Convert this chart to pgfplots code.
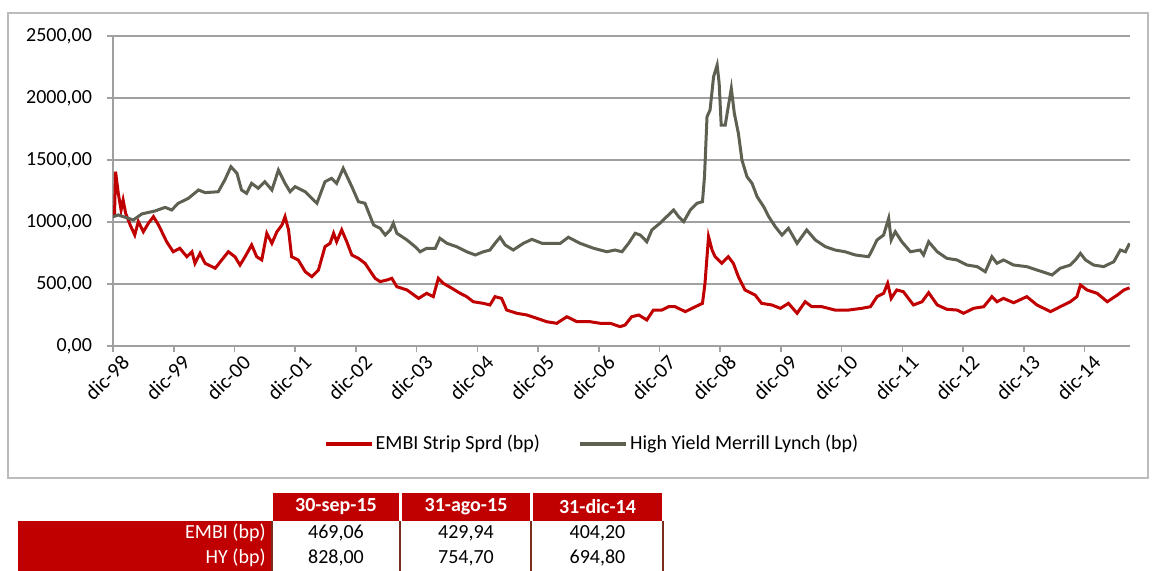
\documentclass[border=0pt]{standalone}
\usepackage{pgfplots}
\pgfplotsset{compat=1.18}
\usepackage{fontspec}
\setmainfont{Carlito}
\definecolor{embired}{HTML}{C00000}
\definecolor{hygray}{HTML}{5E6052}
\definecolor{gridgray}{HTML}{A0A0A0}
\definecolor{cellline}{HTML}{7B2C1A}

% x = months since dic-98, y = basis points
\begin{document}
\begin{tikzpicture}[x=1pt,y=1pt]
\useasboundingbox (0,0) rectangle (579.5,-285.5);
\draw[gridgray!70, line width=1pt] (4,-6.5) rectangle (574,-239);
\begin{axis}[
    scale only axis,
    width=508.5pt, height=155pt,
    at={(56.5pt,-173pt)}, anchor=south west,
    xmin=0, xmax=201, ymin=0, ymax=2500,
    axis lines*=left,
    axis line style={gridgray, line width=0.8pt},
    tick align=outside,
    major tick length=3pt,
    tick style={gridgray, line width=0.8pt},
    ymajorgrids,
    grid style={gridgray, line width=0.8pt},
    xtick={0,12,...,192},
    xticklabels={dic-98,dic-99,dic-00,dic-01,dic-02,dic-03,dic-04,dic-05,dic-06,dic-07,dic-08,dic-09,dic-10,dic-11,dic-12,dic-13,dic-14},
    xticklabel style={rotate=45, anchor=east, font=\fontsize{10.5}{11}\selectfont,
        inner sep=0.5pt, xshift=2.5pt, yshift=-7pt},
    ytick={0,500,...,2500},
    /pgf/number format/assume math mode=true,
    yticklabel={\pgfmathprintnumber[fixed,fixed zerofill,precision=2,use comma,1000 sep={}]{\tick}},
    yticklabel style={font=\fontsize{10}{12}\selectfont, xshift=-4pt},
    legend style={at={(0.471,-0.316)}, anchor=center, draw=none,
        font=\fontsize{10}{12}\selectfont, legend columns=2,
        /tikz/every even column/.append style={column sep=18pt},
        nodes={inner sep=1pt}},
    legend image code/.code={\draw[#1, line width=2pt] (0pt,0pt) -- (23pt,0pt);},
]
\addplot[embired, line width=1.5pt] coordinates {
(0,1040) (0.3,1057) (0.5,1406) (1.05,1231) (1.6,1097) (2.0,1177) (2.5,1070)
(3.4,976) (4.3,895) (5.0,1003) (6.0,922) (7.0,990) (8.0,1043) (9.0,976)
(10.6,841) (11.9,760) (13.2,788) (14.6,720) (15.6,760) (16.2,667) (17.2,747)
(18.2,667) (20.2,627) (21.5,694) (22.8,760) (24.1,720) (25.1,653) (26.1,720)
(27.4,815) (28.4,720) (29.4,694) (30.4,909) (31.4,828) (32.4,922) (33.4,976)
(34.0,1043) (34.7,936) (35.3,720) (36.6,694) (38.0,599) (39.3,559) (40.6,613)
(41.9,801) (42.9,828) (43.6,909) (44.2,841) (45.2,936) (46.2,841) (47.2,734)
(48.5,707) (49.8,667) (51.8,546) (52.8,519) (54.1,532) (55.1,546) (56.1,478)
(58.1,452) (60.4,384) (62.0,425) (63.3,398) (64.3,546) (65.3,505) (67.0,465)
(68.6,425) (69.9,398) (71.2,357) (73.2,344) (74.5,331) (75.5,398) (76.8,384)
(77.8,290) (79.8,264) (81.8,250) (83.8,223) (85.7,196) (87.7,183) (89.7,236)
(91.7,196) (94.3,196) (96.3,183) (98.3,183) (100.2,156) (101.2,169) (102.5,236)
(103.9,250) (105.5,210) (106.8,290) (108.5,290) (109.8,317) (111.1,317)
(113.1,277) (115.1,317) (116.5,344) (117.0,505) (117.7,882) (118.4,774)
(119.0,720) (120.3,667) (121.6,720) (122.6,667) (123.6,559) (124.9,452)
(126.9,411) (128.2,344) (130.2,331) (131.9,304) (133.5,344) (135.2,264)
(136.8,357) (138.1,317) (140.1,317) (142.7,290) (145.4,290) (148.0,304)
(149.7,317) (151.0,398) (152.3,425) (153.1,505) (153.8,384) (154.9,452)
(156.2,438) (158.2,331) (159.9,357) (161.2,430) (162.9,331) (164.8,296)
(166.8,290) (168.1,264) (170.1,304) (172.1,317) (173.7,398) (174.7,357)
(176.0,384) (178.0,349) (180.6,398) (182.6,331) (185.3,277) (187.2,317)
(189.2,357) (190.5,398) (191.2,492) (192.5,452) (194.5,425) (196.5,357)
(198.5,411) (199.8,452) (200.9,469)
};
\addlegendentry{EMBI Strip Sprd (bp)}
\addplot[hygray, line width=1.5pt] coordinates {
(0,1043) (1.05,1057) (4.0,1016) (5.7,1065) (8.3,1089) (10.3,1118) (11.6,1097)
(12.9,1151) (14.9,1191) (16.9,1258) (18.2,1237) (20.8,1244) (22.1,1339)
(23.3,1446) (24.5,1393) (25.4,1258) (26.4,1231) (27.4,1312) (28.7,1272)
(30.0,1325) (31.4,1258) (32.7,1419) (34.0,1312) (35.0,1244) (36.0,1285)
(38.0,1244) (40.3,1151) (41.9,1325) (43.2,1352) (44.2,1312) (45.5,1433)
(47.2,1285) (48.5,1164) (49.8,1151) (51.5,976) (52.8,949) (53.8,895) (54.8,936)
(55.4,990) (56.1,909) (58.1,855) (59.7,801) (60.7,760) (62.0,788) (63.7,788)
(64.6,869) (66.0,828) (67.9,801) (69.9,760) (71.6,734) (73.2,760) (74.5,774)
(75.5,828) (76.5,877) (77.5,815) (79.1,774) (81.1,828) (82.8,860) (84.8,828)
(87.1,828) (88.4,828) (90.0,877) (92.3,828) (95.0,788) (97.6,760) (99.2,774)
(100.6,760) (101.9,828) (103.2,909) (104.2,895) (105.5,841) (106.5,936)
(108.1,990) (109.1,1030) (110.8,1097) (111.8,1043) (112.8,1003) (114.1,1097)
(115.4,1151) (116.5,1164) (116.9,1365) (117.4,1849) (118.0,1903) (118.7,2172)
(119.4,2266) (119.8,2119) (120.2,1782) (121.0,1782) (121.6,1930) (122.2,2078)
(122.8,1876) (123.6,1715) (124.3,1500) (125.3,1365) (126.3,1312) (127.3,1204)
(128.6,1123) (129.6,1043) (130.9,962) (132.2,895) (133.5,949) (135.2,828)
(137.1,936) (138.8,855) (140.8,801) (142.7,774) (144.7,760) (146.7,734)
(149.3,720) (149.7,747) (151.0,855) (152.3,895) (153.3,1030) (153.8,855)
(154.6,922) (155.9,841) (157.6,760) (159.5,774) (160.2,734) (161.2,841)
(162.9,760) (164.8,707) (166.8,694) (168.8,653) (170.8,640) (172.4,599)
(173.7,720) (174.7,667) (176.0,694) (178.0,653) (180.6,640) (182.6,613)
(185.6,573) (187.2,627) (189.2,653) (190.2,694) (191.2,747) (192.2,694)
(193.8,653) (195.8,640) (197.8,680) (199.1,774) (200.1,760) (200.9,828)
};
\addlegendentry{High Yield Merrill Lynch (bp)}
\end{axis}
% summary table below the chart
\fill[embired] (136.5,-246.5) rectangle (199.5,-260.5);
\fill[embired] (201,-246.5) rectangle (265,-260.5);
\fill[embired] (266.5,-246.5) rectangle (331,-260.5);
\fill[embired] (9,-260.5) rectangle (136,-285.5);
\foreach \x in {136,200,265.5,331.5}
  \draw[cellline, line width=0.6pt] (\x,-260.5) -- (\x,-285.5);
\begin{scope}[font=\fontsize{10}{12}\selectfont]
\node[white, font=\fontsize{10}{12}\selectfont\bfseries] at (168,-253.5) {30-sep-15};
\node[white, font=\fontsize{10}{12}\selectfont\bfseries] at (233,-253.5) {31-ago-15};
\node[white, font=\fontsize{10}{12}\selectfont\bfseries] at (298.75,-253.5) {31-dic-14};
\node[white, anchor=east, inner sep=1pt] at (134,-266.5) {EMBI (bp)};
\node[white, anchor=east, inner sep=1pt] at (134,-279) {HY (bp)};
\node at (168,-266.5) {469,06};
\node at (233,-266.5) {429,94};
\node at (298.75,-266.5) {404,20};
\node at (168,-279) {828,00};
\node at (233,-279) {754,70};
\node at (298.75,-279) {694,80};
\end{scope}
\end{tikzpicture}
\end{document}
